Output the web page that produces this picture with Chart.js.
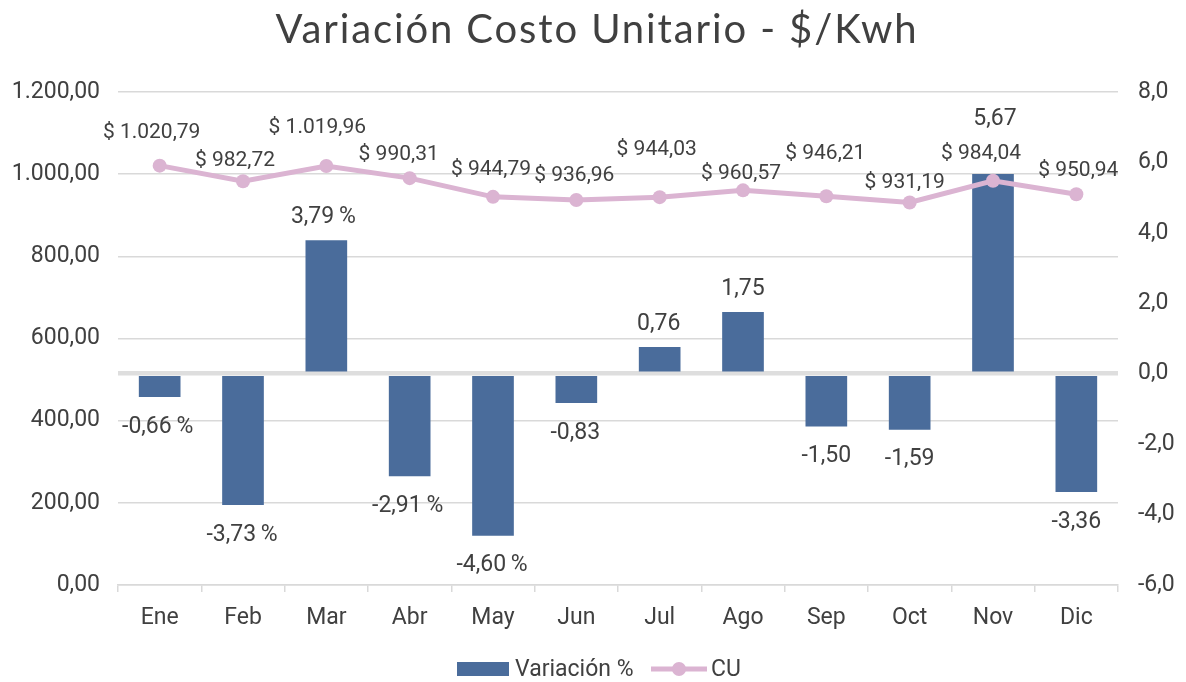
<!DOCTYPE html>
<html><head><meta charset="utf-8">
<script src="https://cdn.jsdelivr.net/npm/chart.js@4.4.1/dist/chart.umd.min.js"></script>
<style>html,body{margin:0;padding:0;background:#fff;}#wrap{width:1186px;height:682px;position:relative;}</style>
</head><body><div id="wrap"><canvas id="c" width="1186" height="682"></canvas></div>
<script>
// ---- data ----
const months = ["Ene","Feb","Mar","Abr","May","Jun","Jul","Ago","Sep","Oct","Nov","Dic"];
const variacion = [-0.66,-3.73,3.79,-2.91,-4.60,-0.83,0.76,1.75,-1.50,-1.59,5.67,-3.36];
const cu = [1020.79,982.72,1019.96,990.31,944.79,936.96,944.03,960.57,946.21,931.19,984.04,950.94];
const pctShown = [true,true,true,true,true,false,false,false,false,false,false,false];
const titleText = "Variación Costo Unitario - $/Kwh";
const seriesNames = ["Variación %","CU"];

// ---- style ----
const barColor = "#4a6c9b";
const lineColor = "#dbb4d2";
const gridColor = "#d9d9d9";
const txt = "#404040";
const cuLabelOffsets = [[-8,-33],[-8,-21],[-9,-38],[-11,-23],[-2,-27],[-2,-24],[-3,-47],[-2,-17],[-1,-43],[-5,-20],[-12,-27],[2,-24]];
const barLabelOffsets = [[-2,0],[-1,0],[-3,0],[-2,0],[-1,0],[-1,0],[-1,0],[0,0],[0,0],[0,0],[2,-32],[0,0]];

function fmt(v,d){
  const neg=v<0; const s=Math.abs(v).toFixed(d); let [i,f]=s.split('.');
  i=i.replace(/\B(?=(\d{3})+(?!\d))/g,'.');
  return (neg?'-':'')+i+(f!==undefined?','+f:'');
}

const decor = {
  id:'decor',
  afterDraw(chart){
    const c=chart.ctx;
    c.save();
    // title
    c.fillStyle=txt; c.textAlign='center'; c.textBaseline='alphabetic';
    c.font='400 40px Lato';
    const w=c.measureText(titleText).width;
    const target=641;
    const ls=(target-w)/(titleText.length-1);
    c.letterSpacing = ls.toFixed(2)+'px';
    c.fillText(titleText, 596+ls/2, 43);
    c.letterSpacing='0px';
    // data labels
    c.textBaseline='middle'; c.textAlign='center'; c.fillStyle=txt;
    const lm=chart.getDatasetMeta(0), bm=chart.getDatasetMeta(1);
    c.font='21px Roboto';
    lm.data.forEach((p,i)=>{
      const o=cuLabelOffsets[i];
      c.fillText("$ "+fmt(cu[i],2), p.x+o[0], p.y+o[1]);
    });
    c.font='23px Roboto';
    bm.data.forEach((b,i)=>{
      const v=variacion[i]; const o=barLabelOffsets[i];
      const y = v<0 ? b.y+30 : b.y-23;
      c.fillText(fmt(v,2)+(pctShown[i]?"\u2009%":""), b.x+o[0], y+o[1]);
    });
    // legend
    const ly=669;
    c.fillStyle=barColor; c.fillRect(457,662,52,14);
    c.fillStyle=txt; c.textAlign='left'; c.font='23px Roboto';
    c.fillText(seriesNames[0],515,ly+1);
    c.strokeStyle=lineColor; c.lineWidth=5; c.lineCap='butt';
    c.beginPath(); c.moveTo(651,ly); c.lineTo(707,ly); c.stroke();
    c.fillStyle=lineColor; c.beginPath(); c.arc(679,ly,7,0,Math.PI*2); c.fill();
    c.fillStyle=txt; c.fillText(seriesNames[1],711,ly+1);
    c.restore();
  }
};

const tickFont={family:'Roboto',size:23};
new Chart(document.getElementById('c'),{
  data:{labels:months,datasets:[
    {type:'line',label:seriesNames[1],data:cu,yAxisID:'y',borderColor:lineColor,backgroundColor:lineColor,borderWidth:5,
     pointRadius:7,pointHoverRadius:7,pointBackgroundColor:lineColor,pointBorderWidth:0,tension:0,order:0},
    {type:'bar',label:seriesNames[0],data:variacion,yAxisID:'y1',backgroundColor:barColor,categoryPercentage:1,barPercentage:0.5,order:1}
  ]},
  options:{
    responsive:false,animation:false,
    layout:{padding:{top:92,bottom:37,left:0,right:0}},
    plugins:{legend:{display:false},title:{display:false},tooltip:{enabled:false}},
    scales:{
      x:{grid:{display:true,drawOnChartArea:false,drawTicks:true,tickLength:7,color:gridColor,lineWidth:1.5,offset:true},
         border:{color:gridColor,width:1.5},
         ticks:{color:txt,font:tickFont,padding:12,maxRotation:0},
         afterFit(s){s.height=60;}},
      y:{position:'left',min:0,max:1200,
         ticks:{stepSize:200,padding:18,color:txt,font:tickFont,callback:v=>fmt(v,2)},
         grid:{color:gridColor,lineWidth:1.5,drawTicks:false},border:{display:false},
         afterFit(s){s.width=118;}},
      y1:{position:'right',min:-6,max:8,z:1,
         ticks:{stepSize:2,padding:20,color:txt,font:tickFont,callback:v=>fmt(v,1)},
         grid:{drawTicks:false,color:ctx=>ctx.tick&&ctx.tick.value===0?'#dedede':'rgba(0,0,0,0)',lineWidth:ctx=>ctx.tick&&ctx.tick.value===0?4.5:1},
         border:{display:false},
         afterFit(s){s.width=68;}}
    }
  },
  plugins:[decor]
});
</script></body></html>
